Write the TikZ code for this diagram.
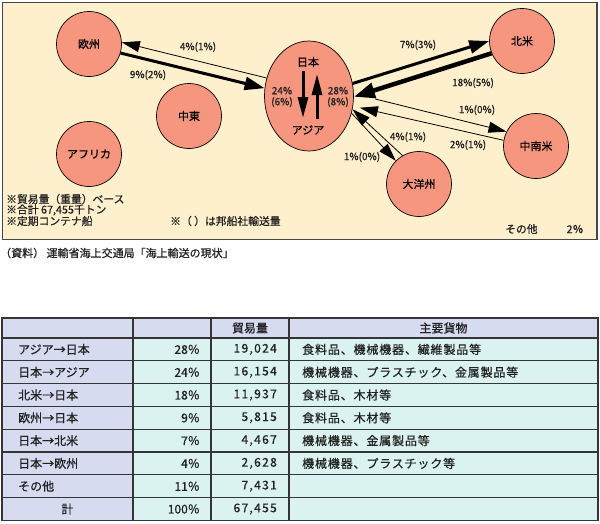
\documentclass[tikz,border=0pt]{standalone}
\usepackage{fontspec}
\setmainfont{Noto Sans CJK JP}[FakeBold=0.6]
\usetikzlibrary{arrows.meta,shapes.geometric}
\definecolor{bg}{HTML}{FFF0CD}
\definecolor{salmon}{HTML}{F7967F}
\definecolor{lav}{HTML}{D6DBF0}
\definecolor{cyn}{HTML}{DAF3F0}
\definecolor{gridc}{HTML}{353535}
\definecolor{ink}{HTML}{222222}
\newcommand\tabfnt{\fontsize{12}{12}\selectfont}
\newcommand\numfnt{\fontsize{12}{12}\selectfont\addfontfeature{LetterSpace=11}}
\newcommand\goodsfnt{\fontsize{12}{12}\selectfont\addfontfeature{LetterSpace=7}}
\newcommand\notefnt{\fontsize{10.8}{11}\selectfont}
\begin{document}
\begin{tikzpicture}[x=1pt,y=-1pt,
  region/.style={circle,draw=black,line width=0.7pt,fill=salmon,minimum size=65pt,inner sep=0pt,font=\fontsize{11}{11}\selectfont},
  hub/.style={ellipse,draw=black,line width=0.7pt,fill=salmon,minimum width=89pt,minimum height=110pt,inner sep=0pt},
  hubtxt/.style={inner sep=0pt,font=\fontsize{11}{11}\selectfont},
  lbl/.style={font=\fontsize{10}{10}\selectfont,text=ink,inner sep=0pt},
  pct/.style={font=\fontsize{10}{11}\selectfont,text=ink,inner sep=0pt,align=center},
  flowthin/.style={draw=black,line width=0.8pt,-{Triangle[length=18pt,width=11pt]}},
  flowmid/.style={draw=black,line width=3pt,-{Triangle[length=20pt,width=13pt]}},
  flowbig/.style={draw=black,line width=4.5pt,-{Triangle[length=21pt,width=15pt]}},
  inner/.style={draw=black,line width=3pt,-{Triangle[length=21pt,width=10pt]}},
  note/.style={anchor=west,inner sep=0pt,font=\notefnt,text=ink},
  cellL/.style={anchor=west,inner sep=0pt,font=\tabfnt,text=ink},
  cellG/.style={anchor=west,inner sep=0pt,font=\goodsfnt,text=ink},
  cellR/.style={anchor=east,inner sep=0pt,font=\tabfnt,text=ink},
  cellN/.style={anchor=east,inner sep=0pt,font=\numfnt,text=ink},
  cellC/.style={anchor=center,inner sep=0pt,font=\tabfnt,text=ink},
  gridline/.style={draw=gridc,line width=1.2pt}
]
\useasboundingbox (0,0) rectangle (600,523);

% panel
\draw[fill=bg,draw=gray!55!black,line width=1.2pt] (2.5,2.5) rectangle (597,239.5);

% regions
\node[region] (eu) at (89,44) {欧州};
\node[region] (me) at (189,116) {中東};
\node[region] (af) at (89,154) {アフリカ};
\node[hub] (jp) at (309,96) {};
\node[region] (na) at (522,41) {北米};
\node[region] (sa) at (536,146) {中南米};
\node[region] (oc) at (419,184) {大洋州};

% inside hub
\node[hubtxt] (jpt) at (308,62) {日本};
\node[hubtxt] (ast) at (308,130) {アジア};
\node[pct] (p24) at (282,97) {24\%\\(6\%)};
\node[pct] (p28) at (338,97) {28\%\\(8\%)};
\coordinate (d1) at (303,71);
\coordinate (d2) at (303,118);
\coordinate (u1) at (317,119);
\coordinate (u2) at (317,74);
\draw[inner] (d1) -- (d2);
\draw[inner] (u1) -- (u2);

% flows
\draw[flowthin] (jp.157) -- (eu.3);
\draw[flowmid] (eu.-16) -- (jp.170);
\draw[flowmid] (jp.16) -- (na.180);
\draw[flowbig] (na.202) -- (jp.-1);
\draw[flowthin,shorten <=22pt] (jp.3) -- (sa.154);
\draw[flowthin,shorten >=7pt] (sa.170) -- (jp.-13);
\draw[flowthin] (jp.-22) -- (oc.135);
\draw[flowthin] (oc.120) -- (jp.-17);

% flow labels
\node[lbl] (l1) at (198,47) {4\%(1\%)};
\node[lbl] (l2) at (148,75) {9\%(2\%)};
\node[lbl] (l3) at (418,45) {7\%(3\%)};
\node[lbl] (l4) at (473,83) {18\%(5\%)};
\node[lbl] (l5) at (477,110) {1\%(0\%)};
\node[lbl] (l6) at (468,145) {2\%(1\%)};
\node[lbl] (l7) at (408,137) {4\%(1\%)};
\node[lbl] (l8) at (362,157) {1\%(0\%)};

% notes
\node[note] (n1) at (6,199) {※貿易量（重量）ベース};
\node[note] (n2) at (6,210) {※合計 67,455千トン};
\node[note] (n3) at (6,221) {※定期コンテナ船};
\node[note] (n4) at (170,221) {※（ ）は邦船社輸送量};
\node[note] (n5) at (505,229) {その他\hspace{29pt}2％};

% source
\node[note,font=\fontsize{11}{11}\selectfont] (src) at (0,253) {（資料） 運輸省海上交通局「海上輸送の現状」};

% table
\fill[lav] (2,318) rectangle (598,338);
\fill[lav] (2,338) rectangle (133,520.4);
\fill[cyn] (133,338) rectangle (598,520.4);
\foreach \yy in {338,360.8,383.6,406.4,429.2,452,474.8,497.6}
  \draw[gridline] (2,\yy) -- (598,\yy);
\foreach \xx in {133,211,289}
  \draw[gridline] (\xx,318) -- (\xx,520.4);
\draw[gridline] (2,318) rectangle (598,520.4);

\node[cellC] (h3) at (250,328) {貿易量};
\node[cellC] (h4) at (443.5,328) {主要貨物};

\foreach \i/\a/\b/\c/\d in {
  1/{アジア→日本}/{28％}/{19,024}/{食料品、機械機器、繊維製品等},
  2/{日本→アジア}/{24％}/{16,154}/{機械機器、プラスチック、金属製品等},
  3/{北米→日本}/{18％}/{11,937}/{食料品、木材等},
  4/{欧州→日本}/{9％}/{5,815}/{食料品、木材等},
  5/{日本→北米}/{7％}/{4,467}/{機械機器、金属製品等},
  6/{日本→欧州}/{4％}/{2,628}/{機械機器、プラスチック等},
  7/{その他}/{11％}/{7,431}/{}}
{
  \pgfmathsetmacro{\yc}{338+22.8*(\i-0.5)}
  \node[cellL] (ra\i) at (18,\yc) {\a};
  \node[cellR] (rb\i) at (200,\yc) {\b};
  \node[cellN] (rc\i) at (277,\yc) {\c};
  \node[cellG] (rd\i) at (302,\yc) {\d};
}
\node[cellC] (ra8) at (67.5,509) {計};
\node[cellR] (rb8) at (200,509) {100％};
\node[cellN] (rc8) at (277,509) {67,455};
\end{tikzpicture}
\end{document}
